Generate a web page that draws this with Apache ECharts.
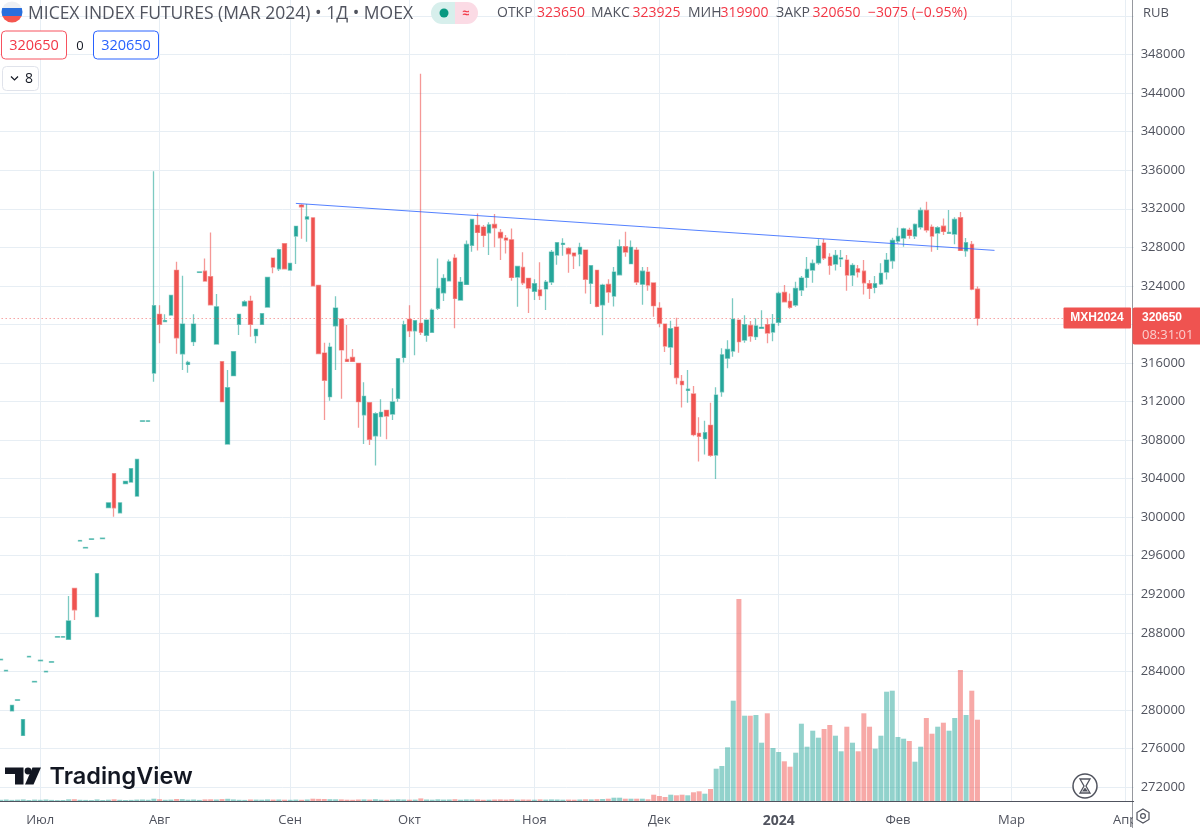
<!DOCTYPE html>
<html>
<head>
<meta charset="utf-8">
<style>html,body{margin:0;padding:0;background:#fff}#c{width:1200px;height:828px}</style>
<script src="https://cdn.jsdelivr.net/npm/echarts@6/dist/echarts.min.js"></script>
</head>
<body>
<div id="c"></div>
<script>
const opens = [285200,284050,279900,281000,277350,285500,282900,285100,283950,284950,
287550,287550,287325,292610,297525,296800,297700,289670,297775,301000,
304510,300455,303480,303650,302190,309950,309950,314950,321050,320300,
320975,325610,316955,315850,318210,325400,325530,324945,317970,316125,
307585,314680,320010,321940,322420,318830,320010,321800,326885,325775,
328370,325640,329170,332385,330930,331065,324050,317030,312500,319865,
320560,316370,316580,315960,310630,311875,308450,310425,311090,310700,
312330,316580,320530,319345,320115,318870,319180,321670,323285,324530,
326885,322530,324155,328205,330280,330100,329510,330380,329550,328960,
328780,324910,325920,324780,323430,323570,323680,324400,327200,328300,
327890,327400,327300,327720,324270,325610,322040,324155,322950,325150,
328060,326300,327720,324180,325430,324300,321700,320040,317655,319730,
314100,313150,312780,308700,308140,309530,306440,313010,316500,317240,
320455,318380,319900,318725,319600,319970,319210,320220,323325,322395,
322010,323560,324880,325640,326400,328440,326990,326260,326800,326680,
325120,325775,325530,324220,323840,324220,325430,326600,328650,328960,
329790,329170,330100,331830,330100,329480,330200,329450,329380,331070,
327640,328300,323650];
const closes = [285250,284100,280475,281050,279000,285550,282950,285150,284000,285000,
287600,287600,289225,290390,297575,296850,297750,294130,297825,301490,
300975,301490,303720,305025,305990,310000,310000,321940,320010,320400,
323010,318620,320040,316060,320040,325450,324500,322040,321830,311980,
313430,317170,321050,322350,320010,319490,321110,324880,325950,327750,
325775,326335,330175,332210,331170,324010,316985,314200,317655,321700,
317350,316165,316165,311980,312540,308075,310735,310880,310500,311950,
316440,319970,319345,320385,319180,320455,321490,323740,324780,326500,
322700,324400,328300,330900,329550,329240,330340,330030,328990,328750,
324880,326020,324320,323770,324220,322980,324400,327510,328480,328420,
327330,327120,328000,324680,326090,321870,324080,323360,325430,328060,
327510,328000,324400,325530,324080,321950,320115,317755,319550,314480,
313750,313280,308560,308390,308760,306420,312670,316850,317400,320530,
318210,319970,318800,319835,319700,319110,320040,323220,322350,321770,
323740,324810,325710,326335,328130,326885,326130,327160,326900,325120,
326130,325430,324320,323740,324220,325300,326680,328720,329130,329920,
329240,330380,331830,329790,329170,330030,329650,329550,330900,327680,
328480,323660,320650];
const lows = [285200,284050,279900,281000,277350,285500,282900,285100,283950,284950,
287550,287550,287325,289330,297525,296800,297700,289670,297775,301000,
300040,300455,303480,303650,302190,309950,309950,314050,318040,320300,
320975,316955,315260,314985,317750,325400,324500,322040,317970,311980,
307585,314680,318900,321940,318720,318040,320010,321800,325300,325550,
325775,325640,326260,328885,328575,324010,316985,310080,312080,315260,
312290,316165,316165,309280,307585,307480,305350,308350,308075,310080,
311980,316060,318690,316800,318900,318200,319180,321490,322420,324530,
319595,322530,324155,327540,327680,328030,327200,328000,326680,327370,
324530,321830,324080,321180,322530,322530,321490,324090,326200,327120,
325360,325750,326050,323220,322110,321780,318870,322240,321870,325150,
327020,326300,324090,322040,323500,320800,319700,317130,315790,313790,
311370,311880,308390,305770,306500,306280,303960,312490,315440,316650,
317060,318100,318210,318380,319600,318040,318250,319865,322350,321630,
321830,322950,323800,324320,326190,326680,325150,325590,325950,323500,
323980,324880,323110,322630,323230,324080,324670,325775,328400,328060,
328900,328860,329860,329550,327540,327720,329270,329400,328310,327610,
327020,323550,319900];
const highs = [285250,284100,280475,281050,279000,285550,282950,285150,284000,285000,
287600,287600,291820,292610,297575,296850,297750,294130,297825,301490,
304510,301490,303720,305025,305990,310000,310000,335900,321980,321050,
323010,326500,325050,316230,321050,325450,326850,329550,323150,316125,
315260,317170,321050,322500,322970,319490,321110,324880,326885,327850,
328370,326335,330175,332500,332490,331065,324050,318100,318100,322920,
320560,319940,317440,315960,313990,311875,310880,312230,311090,313370,
316440,320385,321980,320385,346000,320455,321650,326850,325200,326730,
327270,324920,328700,330900,331520,330310,330590,331450,329900,329270,
329960,326020,327480,324780,324700,326440,324610,327720,328560,328930,
328000,327400,328480,327720,326090,325610,324230,324700,325950,328800,
329610,328720,328000,325950,325950,324300,322290,320040,320385,320695,
314750,315260,313620,310370,310000,311880,313470,317520,318350,322710,
320455,320945,320350,320630,321470,320630,321080,323400,324080,323220,
324430,325020,326990,326750,328830,328860,327380,327720,327720,327200,
326340,326160,326680,324600,325020,326340,327400,329000,330030,330030,
330030,330480,332140,332730,330380,330200,331000,331870,331110,331660,
328960,328650,323925];
const volumes = [120,150,110,130,160,100,140,120,150,110,
90,100,170,180,120,110,90,160,100,130,
170,120,100,110,140,150,120,230,180,120,
140,200,190,130,150,110,160,170,150,190,
220,160,120,110,150,140,130,160,140,150,
130,120,140,120,150,230,210,200,180,170,
160,130,120,150,160,140,180,130,120,140,
170,150,130,140,260,150,130,170,140,150,
180,130,160,150,160,120,130,150,160,140,
170,130,150,140,130,160,140,160,150,130,
140,130,150,170,160,180,
200,230,330,330,230,230,230,230,170,630,500,400,630,570,630,570,870,970,730,1200,
3230,3500,5370,10030,20200,8530,8530,8600,5830,8770,5300,4900,3970,3430,4830,7730,
5430,7030,6330,7200,7600,6530,4970,7430,5830,4970,8770,7430,5230,6530,10930,11030,
6400,6230,6000,3930,5430,8300,6730,7430,7830,7030,8300,13100,8600,11030,8130];
const monthPositions = {7:'Июл',28:'Авг',51:'Сен',72:'Окт',94:'Ноя',116:'Дек',137:'2024',158:'Фев',178:'Мар',198:'Апр'};
const slotCount = 200;
const lastPrice = 320650;
const trendFrom = [52, 332560];
const trendTo = [175, 327683];
const priceMin = 272000, priceMax = 356000, priceStep = 4000, priceTopLabel = 348000;

const UP = '#26a69a', DOWN = '#ef5350';
const FONT = '"Open Sans","Noto Sans",sans-serif';
const categories = Array.from({length: slotCount}, (_, i) => monthPositions[i] || String(i));
const candles = opens.map((o, i) => [o, closes[i], lows[i], highs[i]]);
const isMonth = idx => monthPositions[idx] !== undefined;

const T = (x, y, text, fill, size, extra) => ({type:'text', z:100, x, y,
  style:Object.assign({text, fill, font:`${size}px ${FONT}`, textVerticalAlign:'middle'}, extra||{})});
const chrome = [
  // cover for the axis label spilling past the price scale
  {type:'rect', z:90, shape:{x:1133,y:802,width:67,height:26}, style:{fill:'#fff'}},
  {type:'line', z:95, shape:{x1:1132.5,y1:0,x2:1132.5,y2:828}, style:{stroke:'#50535e',lineWidth:1,opacity:.6}},
  // flag
  {type:'circle', z:100, shape:{cx:12,cy:12,r:10.5}, style:{fill:new echarts.graphic.LinearGradient(0,0,0,1,[
    {offset:0,color:'#eef0f4'},{offset:.33,color:'#eef0f4'},{offset:.33,color:'#2a6fdc'},{offset:.68,color:'#2a6fdc'},{offset:.68,color:'#f4564f'},{offset:1,color:'#f4564f'}])}},
  T(28,14,'MICEX INDEX FUTURES (MAR 2024) • 1Д • MOEX','#50535e',17.5),
  // status pill
  {type:'rect', z:100, shape:{x:431,y:2,width:24,height:22,r:[11,0,0,11]}, style:{fill:'#d7efec'}},
  {type:'rect', z:100, shape:{x:455,y:2,width:23,height:22,r:[0,11,11,0]}, style:{fill:'#fbdbe5'}},
  {type:'circle', z:101, shape:{cx:444,cy:13,r:4.5}, style:{fill:'#089981'}},
  T(466,14,'≈','#f23645',17,{textAlign:'center',fontWeight:'bold'}),
  T(497,13,'ОТКР','#50535e',14), T(537,13,'323650','#f23645',14),
  T(591,13,'МАКС','#50535e',14), T(632.5,13,'323925','#f23645',14),
  T(688,13,'МИН','#50535e',14), T(720.5,13,'319900','#f23645',14),
  T(776,13,'ЗАКР','#50535e',14), T(812.5,13,'320650','#f23645',14),
  T(868,13,'−3075 (−0.95%)','#f23645',14),
  T(1143,13,'RUB','#50535e',13),
  // order boxes
  {type:'rect', z:100, shape:{x:1.5,y:31,width:65,height:28,r:4}, style:{fill:'#fff',stroke:'#f7525f',lineWidth:1}},
  T(34,46,'320650','#f23645',14.5,{textAlign:'center'}),
  T(80,46,'0','#131722',13,{textAlign:'center'}),
  {type:'rect', z:100, shape:{x:93.5,y:31,width:65,height:28,r:4}, style:{fill:'#fff',stroke:'#2962ff',lineWidth:1}},
  T(126,46,'320650','#2962ff',14.5,{textAlign:'center'}),
  {type:'rect', z:100, shape:{x:2.5,y:66.5,width:36,height:24,r:4}, style:{fill:'#fff',stroke:'#e0e3eb',lineWidth:1}},
  {type:'polyline', z:101, shape:{points:[[11,76.5],[14.5,80],[18,76.5]]}, style:{stroke:'#131722',lineWidth:1.2,fill:null}},
  T(29,79,'8','#131722',14,{textAlign:'center'}),
  // TradingView mark
  {type:'polygon', z:100, shape:{points:[[5,767.5],[23.5,767.5],[23.5,784.5],[15,784.5],[15,774],[5,774]]}, style:{fill:'#131722'}},
  {type:'circle', z:100, shape:{cx:28,cy:771,r:3.4}, style:{fill:'#131722'}},
  {type:'polygon', z:100, shape:{points:[[32.5,767.5],[41,767.5],[33.5,784.5],[25,784.5]]}, style:{fill:'#131722'}},
  {type:'text', z:100, x:49.5, y:777, style:{text:'TradingView', fill:'#131722', font:'600 23.5px Inter,sans-serif', textVerticalAlign:'middle'}},
  // replay clock
  {type:'circle', z:100, shape:{cx:1085,cy:786,r:12}, style:{fill:'#fff',stroke:'#50535e',lineWidth:1.5}},
  {type:'polygon', z:101, shape:{points:[[1080,779],[1090,779],[1086,786],[1090,793],[1080,793],[1084,786]]}, style:{fill:'#fff',stroke:'#50535e',lineWidth:1.3}},
  {type:'polygon', z:101, shape:{points:[[1082,791.5],[1088,791.5],[1085,787.5]]}, style:{fill:'#50535e'}},
  // scale settings
  {type:'polygon', z:100, shape:{points:[[1143,809],[1149,812.5],[1149,819.5],[1143,823],[1137,819.5],[1137,812.5]]}, style:{fill:'#fff',stroke:'#50535e',lineWidth:1.2}},
  {type:'circle', z:101, shape:{cx:1143,cy:816,r:2.4}, style:{fill:'#fff',stroke:'#50535e',lineWidth:1.2}},
  // last price tags
  {type:'rect', z:100, shape:{x:1063.5,y:307.5,width:67.5,height:21,r:1}, style:{fill:DOWN}},
  T(1097,318,'MXH2024','#fff',13,{textAlign:'center',fontWeight:'600'}),
  {type:'rect', z:100, shape:{x:1132.5,y:307.5,width:67.5,height:37,r:[2,0,0,2]}, style:{fill:DOWN}},
  T(1142,318,'320650','#fff',14,{fontWeight:'600'}),
  T(1142,335,'08:31:01','rgba(255,255,255,.72)',13)
];

const chart = echarts.init(document.getElementById('c'), null, {renderer:'canvas', width:1200, height:828});
const gridBox = {left:-2.34, width:1136, outerBoundsMode:'none', containLabel:false};
const splitColor = '#e7eef4';
chart.setOption({
  animation:false,
  backgroundColor:'#fff',
  grid:[
    Object.assign({top:-22.5, height:809.5}, gridBox),
    Object.assign({top:0, height:801}, gridBox)
  ],
  xAxis:[
    {type:'category', gridIndex:0, data:categories, show:false},
    {type:'category', gridIndex:1, data:categories,
      axisLine:{show:true, onZero:false, lineStyle:{color:'#50535e', width:1}},
      axisTick:{show:false},
      axisLabel:{interval:idx=>isMonth(idx), margin:13, color:'#50535e', fontFamily:FONT, fontSize:13, hideOverlap:false,
        formatter:v=>v==='2024'?'{b|2024}':v, rich:{b:{fontWeight:'bold', fontSize:14, color:'#50535e', fontFamily:FONT}}},
      splitLine:{show:true, interval:idx=>isMonth(idx), alignWithLabel:true, lineStyle:{color:splitColor, width:1}}}
  ],
  yAxis:[
    {type:'value', gridIndex:0, position:'right', min:priceMin, max:priceMax, interval:priceStep,
      axisLine:{show:false}, axisTick:{show:false},
      axisLabel:{margin:7, padding:[3,0,0,0], color:'#50535e', fontFamily:FONT, fontSize:13, formatter:v=>v>priceTopLabel?'':String(v)},
      splitLine:{show:true, lineStyle:{color:splitColor, width:1}}},
    {type:'value', gridIndex:1, min:0, max:80100, show:false, splitLine:{show:false}}
  ],
  series:[
    {type:'bar', name:'Volume', xAxisIndex:1, yAxisIndex:1, data:volumes, barWidth:5, z:2, silent:true,
      itemStyle:{color:p=>closes[p.dataIndex]>opens[p.dataIndex]?'rgba(38,166,154,.5)':'rgba(239,83,80,.5)'}},
    {type:'candlestick', name:'MXH2024', xAxisIndex:0, yAxisIndex:0, data:candles, barWidth:4, z:3, silent:true,
      itemStyle:{color:UP, color0:DOWN, borderColor:'rgba(38,166,154,.6)', borderColor0:'rgba(239,83,80,.6)', borderWidth:1.3},
      markLine:{silent:true, symbol:'none', animation:false, label:{show:false},
        data:[
          {yAxis:lastPrice, lineStyle:{color:DOWN, type:[1,3], width:1, opacity:.8}},
          [{coord:trendFrom, lineStyle:{color:'#2962ff', type:'solid', width:1, opacity:.8}},{coord:trendTo}]
        ]}}
  ],
  graphic:chrome
});
</script>
</body>
</html>
